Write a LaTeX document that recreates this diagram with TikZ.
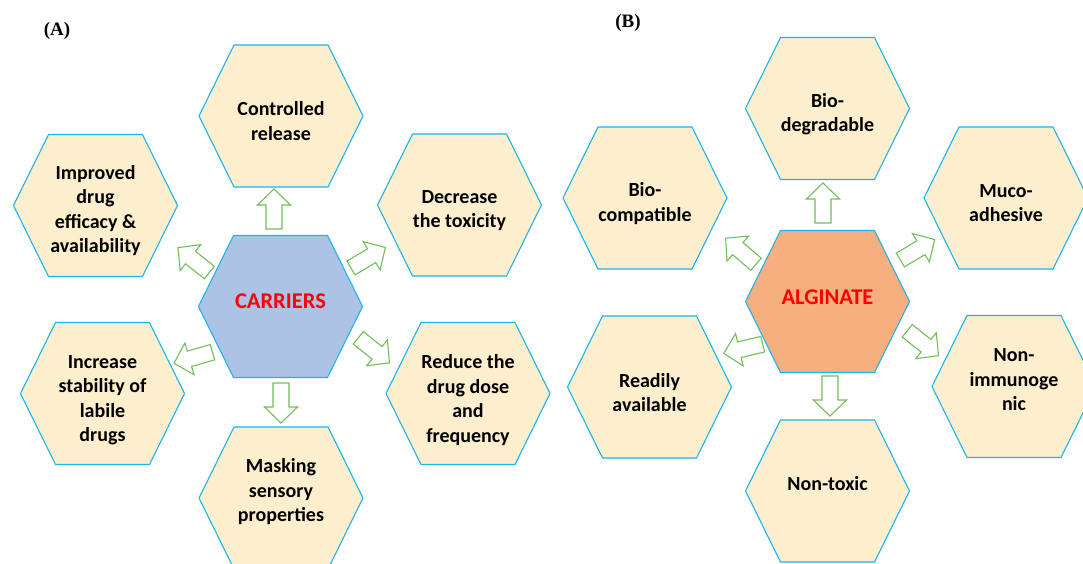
\documentclass[tikz,border=0pt]{standalone}
\usepackage{fontspec}
\setmainfont{Carlito}
\newfontfamily\serifbold{Liberation Serif}
\definecolor{hexblue}{HTML}{19B5EE}
\definecolor{cream}{HTML}{FDEFCD}
\definecolor{carrfill}{HTML}{ADC3E6}
\definecolor{algfill}{HTML}{F7AF80}
\definecolor{arrgreen}{HTML}{72BE5A}
\tikzset{
  hexa/.pic={\path[pic actions] (-82,0) -- (-47,71) -- (47,71) -- (82,0) -- (47,-71) -- (-47,-71) -- cycle;},
  barrow/.pic={\path[pic actions] (0,-8) -- (24,-8) -- (24,-16.5) -- (40,0) -- (24,16.5) -- (24,8) -- (0,8) -- cycle;},
  hexstyle/.style={draw=hexblue, fill=cream, line width=1.1pt, line join=miter},
  arrstyle/.style={draw=arrgreen, fill=white, line width=1.1pt, line join=miter},
  lbl/.style={align=center, inner sep=0pt, font={\fontsize{20}{24.5}\selectfont\bfseries}},
  ctr/.style={inner sep=0pt, text=red, font={\fontsize{22.5}{26}\selectfont\bfseries}},
  panel/.style={inner sep=0pt, font={\serifbold\fontsize{19}{22}\selectfont\bfseries}}
}
\begin{document}
\begin{tikzpicture}[x=1pt,y=1pt]
\clip (0,0) rectangle (1083,563);
\fill[white] (0,0) rectangle (1083,563);
% ---------- Panel A ----------
\node[panel] (pa) at (57,532) {(A)};
\pic[hexstyle] at (281,447) {hexa};
\pic[hexstyle] at (95.5,357.5) {hexa};
\pic[hexstyle] at (459.5,358) {hexa};
\pic[hexstyle, fill=carrfill] at (280.5,256.5) {hexa};
\pic[hexstyle] at (102.5,169.5) {hexa};
\pic[hexstyle] at (468,169.5) {hexa};
\pic[hexstyle] at (281,65) {hexa};
\node[lbl] (ctrl) at (281,442) {Controlled\\release};
\node[lbl] (impr) at (95.5,352.3) {Improved\\drug\\efficacy \&\\availability};
\node[lbl] (decr) at (459.5,352.3) {Decrease\\the toxicity};
\node[ctr] (carr) at (280.5,262.3) {CARRIERS};
\node[lbl] (incr) at (102.5,163) {Increase\\stability of\\labile\\drugs};
\node[lbl] (redu) at (468,163) {Reduce the\\drug dose\\and\\frequency};
\node[lbl] (mask) at (281,71) {Masking\\sensory\\properties};
\pic[arrstyle, rotate=90] at (274,334) {barrow};
\pic[arrstyle, rotate=-90] at (281,180) {barrow};
\pic[arrstyle, rotate=141.6] at (209.3,290.5) {barrow};
\pic[arrstyle, rotate=30.8] at (351,295) {barrow};
\pic[arrstyle, rotate=-38.8] at (358.3,225.2) {barrow};
\pic[arrstyle, rotate=196] at (212.5,210.8) {barrow};
% ---------- Panel B ----------
\node[panel] (pb) at (628,540) {(B)};
\pic[hexstyle] at (827.5,454.5) {hexa};
\pic[hexstyle] at (645,365) {hexa};
\pic[hexstyle] at (1006,365) {hexa};
\pic[hexstyle, fill=algfill] at (827.5,261.5) {hexa};
\pic[hexstyle] at (649.5,176) {hexa};
\pic[hexstyle] at (1014,176.5) {hexa};
\pic[hexstyle] at (827.5,72) {hexa};
\node[lbl] (biodeg) at (827.5,449) {Bio-\\degradable};
\node[lbl] (biocomp) at (645,359.5) {Bio-\\compatible};
\node[lbl] (muco) at (1006,360) {Muco-\\adhesive};
\node[ctr] (alg) at (827.5,266) {ALGINATE};
\node[lbl] (readily) at (649.5,170.5) {Readily\\available};
\node[lbl] (nonimm) at (1014,183) {Non-\\immunoge\\nic};
\node[lbl] (nontox) at (827.5,79) {Non-toxic};
\pic[arrstyle, rotate=90] at (823,340) {barrow};
\pic[arrstyle, rotate=-90] at (830,187) {barrow};
\pic[arrstyle, rotate=139.5] at (756,298.8) {barrow};
\pic[arrstyle, rotate=30.7] at (900.3,303) {barrow};
\pic[arrstyle, rotate=-38.4] at (907.2,232.2) {barrow};
\pic[arrstyle, rotate=193.3] at (762.7,218.8) {barrow};
\end{tikzpicture}
\end{document}
